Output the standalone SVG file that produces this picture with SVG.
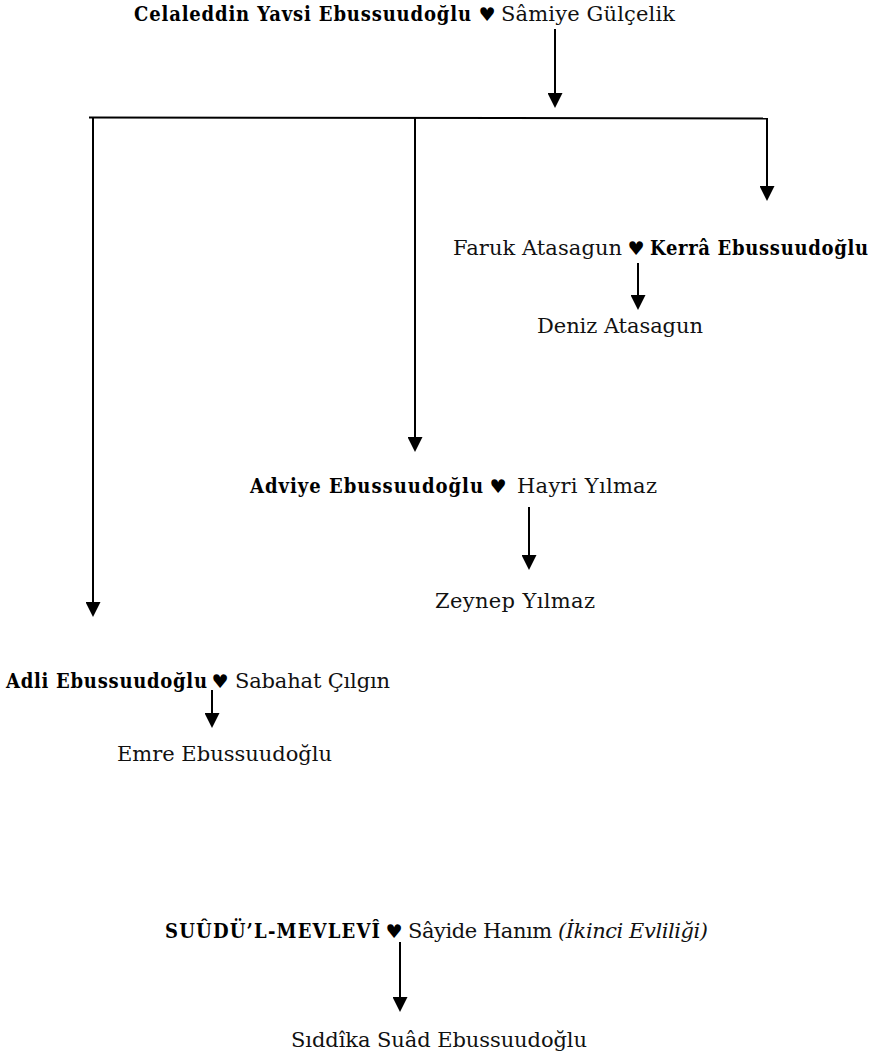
<svg xmlns="http://www.w3.org/2000/svg" width="877" height="1063" viewBox="0 0 877 1063">
<style>
.r{font-family:"DejaVu Serif","Liberation Serif",serif;font-size:21px;fill:#111}
.b{font-family:"DejaVu Serif Condensed","DejaVu Serif","Liberation Serif",serif;font-weight:bold;font-size:20px;fill:#000}
.i{font-style:italic}
.h{font-family:"DejaVu Sans",sans-serif;font-size:19px;fill:#000;text-anchor:middle}
.c{stroke:#000;stroke-width:2;fill:none}
.ca{stroke:#000;stroke-width:2;fill:none;marker-end:url(#ah)}
</style>
<defs>
<marker id="ah" viewBox="0 0 15 15" refX="0" refY="7.5" markerWidth="15" markerHeight="15" markerUnits="userSpaceOnUse" orient="auto">
<path d="M0,0 L15,7.5 L0,15 z" fill="#000"/>
</marker>
</defs>
<rect width="877" height="1063" fill="#fff"/>
<g id="connectors">
<path class="c" d="M89,117.5 L767,118.5" stroke-width="2.5"/>
<path class="ca" d="M555,29 L555,93"/>
<path class="ca" d="M93,117 L93,602"/>
<path class="ca" d="M415,118 L415,437"/>
<path class="ca" d="M767,118 L767,186"/>
<path class="ca" d="M638,263 L638,295"/>
<path class="ca" d="M529,507 L529,555"/>
<path class="ca" d="M212,690 L212,713"/>
<path class="ca" d="M400,942 L400,997"/>
</g>
<g id="n-celaleddin">
<text class="b" x="134" y="21" textLength="337">Celaleddin Yavsi Ebussuudoğlu</text>
<text class="h" x="487" y="21">♥</text>
<text class="r" x="501" y="21" textLength="174">Sâmiye Gülçelik</text>
</g>
<g id="n-kerra">
<text class="r" x="453" y="255" textLength="169">Faruk Atasagun</text>
<text class="h" x="636" y="255">♥</text>
<text class="b" x="650" y="255" textLength="218">Kerrâ Ebussuudoğlu</text>
</g>
<g id="n-deniz">
<text class="r" x="537" y="333" textLength="166">Deniz Atasagun</text>
</g>
<g id="n-adviye">
<text class="b" x="250" y="493" textLength="233">Adviye Ebussuudoğlu</text>
<text class="h" x="498" y="493">♥</text>
<text class="r" x="517" y="493" textLength="140">Hayri Yılmaz</text>
</g>
<g id="n-zeynep">
<text class="r" x="435" y="608" textLength="160">Zeynep Yılmaz</text>
</g>
<g id="n-adli">
<text class="b" x="6" y="688" textLength="201">Adli Ebussuudoğlu</text>
<text class="h" x="220" y="688">♥</text>
<text class="r" x="235" y="688" textLength="155">Sabahat Çılgın</text>
</g>
<g id="n-emre">
<text class="r" x="117" y="761" textLength="215">Emre Ebussuudoğlu</text>
</g>
<g id="n-suudu">
<text class="b" x="165" y="938" textLength="215">SUÛDÜ’L-MEVLEVÎ</text>
<text class="h" x="394" y="938">♥</text>
<text class="r" x="408" y="938" textLength="300">Sâyide Hanım <tspan class="i">(İkinci Evliliği)</tspan></text>
</g>
<g id="n-siddika">
<text class="r" x="291" y="1047" textLength="296">Sıddîka Suâd Ebussuudoğlu</text>
</g>
</svg>
